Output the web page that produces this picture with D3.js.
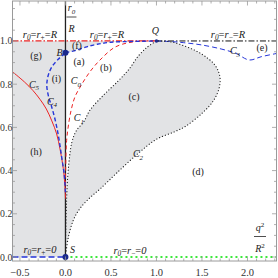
<!DOCTYPE html>
<html><head><meta charset="utf-8">
<script src="https://cdn.jsdelivr.net/npm/d3@7"></script>
<style>
html,body{margin:0;padding:0;background:#fff;}
svg{display:block;}
text{font-family:"Liberation Serif","DejaVu Serif",serif;}
</style></head>
<body>
<svg id="chart" width="278" height="278"></svg>
<script>
// ---- data (x = q^2/R^2, y = r0/R) ----
const curveC4 = [[0,0.30],[-0.013,0.38],[-0.04,0.458],[-0.075,0.555],[-0.116,0.64],[-0.155,0.70],[-0.19,0.75],[-0.205,0.795],[-0.19,0.84],[-0.15,0.88],[-0.08,0.915],[0,0.945]];
const curveC3a = [[0,0.945],[0.124,0.958],[0.234,0.973],[0.35,0.985],[0.5,0.994],[0.75,0.998],[1,1]];
const curveC3b = [[1,1],[1.17,0.997],[1.3,0.992],[1.49,0.982],[1.71,0.963],[1.87,0.943],[2.02,0.912],[2.15,0.927],[2.33,0.943]];
const curveC0 = [[0,0.27],[0.002,0.4],[0.013,0.54],[0.04,0.63],[0.068,0.69],[0.105,0.742],[0.18,0.80],[0.27,0.858],[0.38,0.912],[0.547,0.972],[0.75,0.996],[1,1]];
const curveC5 = [[-0.59,0.86],[-0.45,0.81],[-0.356,0.77],[-0.28,0.73],[-0.21,0.685],[-0.15,0.63],[-0.097,0.57],[-0.06,0.50],[-0.024,0.41],[-0.008,0.34],[0,0.28]];
const curveC1 = [[0,0],[0.004,0.12],[0.013,0.27],[0.03,0.40],[0.07,0.53],[0.12,0.585],[0.2,0.625],[0.27,0.68],[0.42,0.75],[0.58,0.815],[0.7,0.87],[0.8,0.93],[0.9,0.972],[1,1]];
const curveC2 = [[0,0],[0.03,0.088],[0.086,0.17],[0.16,0.225],[0.27,0.275],[0.38,0.315],[0.566,0.39],[0.8,0.48],[1.0,0.545],[1.2,0.58],[1.32,0.605],[1.5,0.665],[1.62,0.72],[1.68,0.77],[1.70,0.82],[1.68,0.86],[1.63,0.895],[1.53,0.93],[1.43,0.955],[1.3,0.978],[1.17,0.995],[1.05,1.0],[1,1]];
const pointsBSQ = [["B",0,0.945],["S",0,0],["Q",1,1]];
const xTickLabels = [-0.5,0,0.5,1,1.5,2];
const yTickLabels = [0,0.2,0.4,0.6,0.8,1.0];
const regionLabels = [
  ["(g)",-0.324,0.935],["(f)",0.126,0.977],["(a)",0.148,0.903],["(b)",0.445,0.875],
  ["(i)",-0.099,0.824],["(c)",0.753,0.741],["(h)",-0.324,0.49],["(d)",1.456,0.398],["(e)",2.159,0.968]
];
const curveLabels = [["C","5",-0.346,0.80],["C","4",-0.148,0.722],["C","0",0.115,0.815],["C","1",0.148,0.644],["C","2",0.797,0.477],["C","3",1.863,0.954]];
const lineLabels = [
  [["r","0"],"=",["r","+"],"=","R",-0.28,1.032],
  [["r","0"],"=",["r","+"],"=","R",0.456,1.032],
  [["r","0"],"=",["r","\u2212"],"=","R",1.786,1.032],
  [["r","0"],"=",["r","+"],"=","0",-0.28,0.037],
  [["r","0"],"=",["r","\u2212"],"=","0",0.709,0.032]
];

// ---- scales ----
const svg = d3.select("#chart");
const L=12.5,R=276.5,T=1,B=261;
const x = d3.scaleLinear().domain([-0.582,2.319]).range([L,R]);
const y = d3.scaleLinear().domain([-0.0185,1.185]).range([B,T]);
const line = d3.line().x(d=>x(d[0])).y(d=>y(d[1])).curve(d3.curveCatmullRom.alpha(0.5));

const RED="#ec2424", BLUE="#2535d8", GREEN="#3be83b", GRAYF="#e2e3e5";

svg.append("defs").append("clipPath").attr("id","clip")
  .append("rect").attr("x",L).attr("y",T).attr("width",R-L).attr("height",B-T);
const g = svg.append("g").attr("clip-path","url(#clip)");

// ---- fills ----
g.append("rect").attr("x",x(-0.582)).attr("y",y(1)).attr("width",x(0)-x(-0.582)).attr("height",y(0)-y(1)).attr("fill",GRAYF);
g.append("path").attr("d", line(curveC3a)+"L"+x(1)+","+y(1)+"L"+x(0)+","+y(1)+"Z").attr("fill",GRAYF);
const p2 = line(curveC2);
const p1r = line(curveC1.slice().reverse()).replace(/^M/,"L");
g.append("path").attr("d",p2+p1r+"Z").attr("fill",GRAYF);

// ---- straight reference lines ----
g.append("line").attr("x1",x(-0.582)).attr("x2",x(1)).attr("y1",y(1)).attr("y2",y(1))
  .attr("stroke",RED).attr("stroke-width",1.2).attr("stroke-dasharray","6,2,1.5,2");
g.append("line").attr("x1",x(1)).attr("x2",x(2.319)).attr("y1",y(1)).attr("y2",y(1))
  .attr("stroke","#111").attr("stroke-width",1).attr("stroke-dasharray","6,2,1.5,2");
g.append("line").attr("x1",x(-0.582)).attr("x2",x(0)).attr("y1",y(0)).attr("y2",y(0))
  .attr("stroke",BLUE).attr("stroke-width",1.6).attr("stroke-dasharray","6,3");
g.append("line").attr("x1",x(0)).attr("x2",x(2.319)).attr("y1",y(0)).attr("y2",y(0))
  .attr("stroke",GREEN).attr("stroke-width",1.8).attr("stroke-dasharray","2,3");

// vertical axis at x=0
g.append("line").attr("x1",x(0)).attr("x2",x(0)).attr("y1",B).attr("y2",T)
  .attr("stroke","#222").attr("stroke-width",1.3);

// ---- curves ----
g.append("path").attr("d",line(curveC5)).attr("fill","none").attr("stroke",RED).attr("stroke-width",1);
g.append("path").attr("d",line(curveC0)).attr("fill","none").attr("stroke",RED).attr("stroke-width",1).attr("stroke-dasharray","4,3");
g.append("path").attr("d",line(curveC4)).attr("fill","none").attr("stroke",BLUE).attr("stroke-width",1.4).attr("stroke-dasharray","4,2.5");
g.append("path").attr("d",line(curveC3a)).attr("fill","none").attr("stroke",BLUE).attr("stroke-width",1.4).attr("stroke-dasharray","4,2.5");
g.append("path").attr("d",line(curveC3b)).attr("fill","none").attr("stroke",BLUE).attr("stroke-width",1).attr("stroke-dasharray","5,3");
[curveC1,curveC2].forEach(c=>{
  g.append("path").attr("d",line(c)).attr("fill","none").attr("stroke","#222").attr("stroke-width",1.2)
   .attr("stroke-dasharray","0.1,3").attr("stroke-linecap","round");
});

// ---- points ----
pointsBSQ.forEach(p=>{
  g.append("circle").attr("cx",x(p[1])).attr("cy",y(p[2])).attr("r",p[0]==="Q"?1.8:3).attr("fill","#1c2a8c");
});

// ---- frame & ticks ----
const FR="#9a9a9a";
svg.append("rect").attr("x",L).attr("y",T).attr("width",R-L).attr("height",B-T).attr("fill","none").attr("stroke",FR).attr("stroke-width",1);
const tk = svg.append("g").attr("stroke",FR).attr("stroke-width",0.8);
d3.range(-5,24).forEach(i=>{
  const v=i/10, px=x(v), major=(i%5===0), len=major?4.5:2.5;
  if(px<L||px>R) return;
  tk.append("line").attr("x1",px).attr("x2",px).attr("y1",B).attr("y2",B-len);
  tk.append("line").attr("x1",px).attr("x2",px).attr("y1",T).attr("y2",T+len);
});
d3.range(0,24).forEach(i=>{
  const v=i/20, py=y(v), major=(i%4===0), len=major?4.5:2.5;
  if(py<T||py>B) return;
  tk.append("line").attr("y1",py).attr("y2",py).attr("x1",L).attr("x2",L+len);
  tk.append("line").attr("y1",py).attr("y2",py).attr("x1",R).attr("x2",R-len);
});
const fmt = d3.format(".1f");
xTickLabels.forEach(v=>{
  svg.append("text").attr("x",x(v)).attr("y",276).attr("text-anchor","middle").attr("font-size",10.5).attr("fill","#333")
   .text(fmt(v).replace("-","\u2212"));
});
yTickLabels.forEach(v=>{
  svg.append("text").attr("x",12.3).attr("y",y(v)+3.5).attr("text-anchor","end").attr("font-size",9.8).attr("fill","#333")
   .text(fmt(v));
});

// ---- annotations ----
function rich(px,py,parts,size){
  const t = svg.append("text").attr("x",px).attr("y",py).attr("text-anchor","middle").attr("font-size",size).attr("fill","#222");
  let shifted=0;
  parts.forEach(p=>{
    if(Array.isArray(p)){
      t.append("tspan").attr("font-style","italic").attr("dy",-shifted||null).text(p[0]); shifted=0;
      t.append("tspan").attr("font-size",size*0.7).attr("font-style",/[0-9a-z]/.test(p[1])?"italic":"normal").attr("dy",2.5).text(p[1]); shifted=2.5;
    } else {
      t.append("tspan").attr("font-style",/[A-Za-z0-9]/.test(p)?"italic":"normal").attr("dy",shifted?-shifted:null).text(p); shifted=0;
    }
  });
  return t;
}
lineLabels.forEach(l=>{ rich(x(l[5]),y(l[6])+3.5,l.slice(0,5),10.5); });
regionLabels.forEach(l=>{
  svg.append("text").attr("x",x(l[1])).attr("y",y(l[2])+3.5).attr("text-anchor","middle").attr("font-size",10).attr("fill","#222").text(l[0]);
});
curveLabels.forEach(l=>{ rich(x(l[2]),y(l[3])+3.5,[[l[0],l[1]]],10); });
pointsBSQ.forEach(p=>{
  const off = p[0]==="B"?[-6,3.5]:p[0]==="S"?[7,-4]:[-1,-7];
  svg.append("text").attr("x",x(p[1])+off[0]).attr("y",y(p[2])+off[1]).attr("text-anchor","middle")
    .attr("font-size",10).attr("font-style","italic").attr("fill","#222").text(p[0]);
});
// axis labels
const ax0 = x(0)+6;
rich(ax0,11,[["r","0"]],10);
svg.append("line").attr("x1",ax0-5).attr("x2",ax0+5).attr("y1",17).attr("y2",17).attr("stroke","#222").attr("stroke-width",0.8);
svg.append("text").attr("x",ax0).attr("y",32).attr("text-anchor","middle").attr("font-size",10).attr("font-style","italic").attr("fill","#222").text("R");
const qx=260;
const qt=svg.append("text").attr("x",qx).attr("y",231).attr("text-anchor","middle").attr("font-size",10).attr("fill","#222");
qt.append("tspan").attr("font-style","italic").text("q"); qt.append("tspan").attr("font-size",7).attr("dy",-4).text("2");
svg.append("line").attr("x1",qx-6).attr("x2",qx+6).attr("y1",236.5).attr("y2",236.5).attr("stroke","#222").attr("stroke-width",0.8);
const rt=svg.append("text").attr("x",qx).attr("y",252).attr("text-anchor","middle").attr("font-size",10).attr("fill","#222");
rt.append("tspan").attr("font-style","italic").text("R"); rt.append("tspan").attr("font-size",7).attr("dy",-4).text("2");
</script>
</body></html>
